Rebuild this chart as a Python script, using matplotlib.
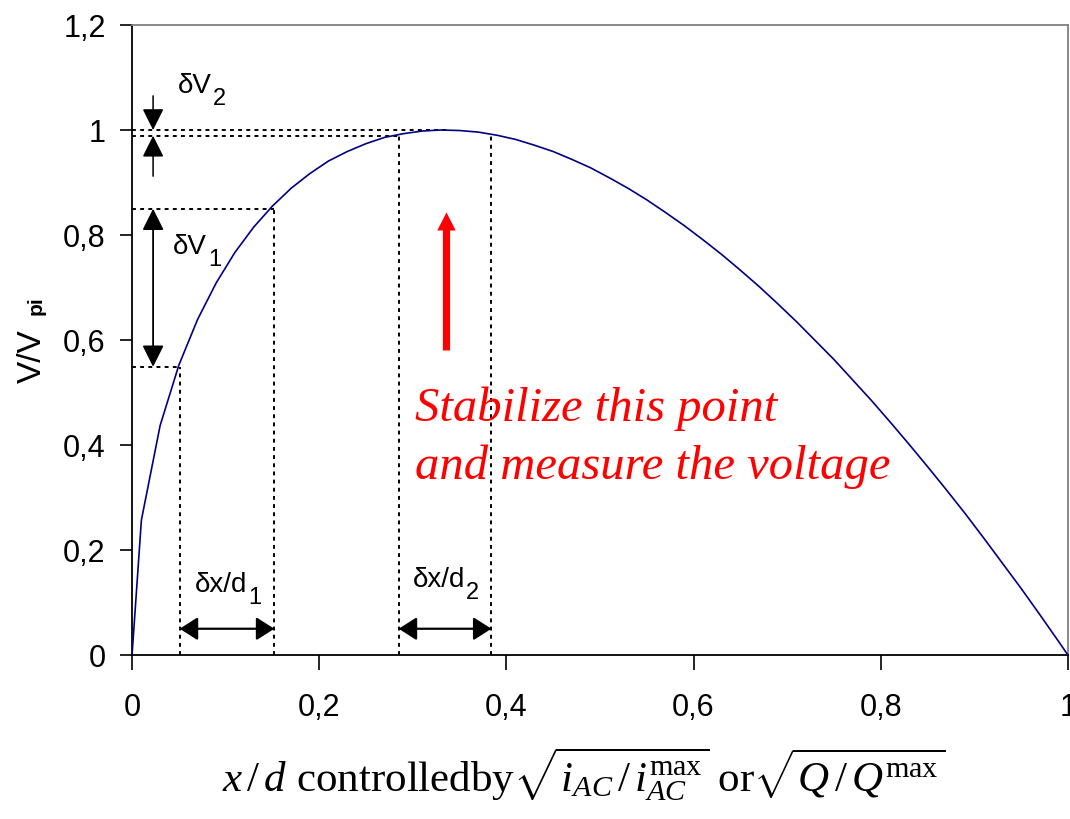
import matplotlib
matplotlib.use("Agg")
import matplotlib.pyplot as plt

plt.rcParams['mathtext.fontset'] = 'custom'
plt.rcParams['mathtext.rm'] = 'Liberation Serif'
plt.rcParams['mathtext.it'] = 'Liberation Serif:italic'
plt.rcParams['mathtext.bf'] = 'Liberation Serif:bold'
plt.rcParams['font.family'] = ['Liberation Sans', 'DejaVu Sans']

# curve values
x_pos = [0, 0.01, 0.03, 0.05, 0.07, 0.09, 0.11, 0.13, 0.15, 0.17, 0.19, 0.21, 0.23,
         0.25, 0.27, 0.29, 0.31, 0.33, 0.35, 0.37, 0.39, 0.41, 0.43, 0.45, 0.47,
         0.49, 0.51, 0.53, 0.55, 0.57, 0.59, 0.61, 0.63, 0.65, 0.67, 0.69, 0.71,
         0.73, 0.75, 0.77, 0.79, 0.81, 0.83, 0.85, 0.87, 0.89, 0.91, 0.93, 0.95,
         0.97, 0.99, 1.0]
v_ratio = [0, 0.257, 0.437, 0.552, 0.639, 0.709, 0.767, 0.815, 0.855, 0.889, 0.917,
           0.941, 0.959, 0.974, 0.986, 0.993, 0.998, 1.0, 0.999, 0.996, 0.990, 0.982,
           0.971, 0.959, 0.944, 0.928, 0.909, 0.889, 0.867, 0.843, 0.818, 0.791,
           0.763, 0.733, 0.702, 0.669, 0.635, 0.599, 0.563, 0.524, 0.485, 0.444,
           0.402, 0.359, 0.315, 0.270, 0.223, 0.175, 0.127, 0.077, 0.026, 0]

# marked operating points (x, V/Vpi)
guide_x = [0.051, 0.152, 0.285, 0.384]
guide_v = [0.549, 0.850, 0.989, 0.989]
dv2_top = 1.0

xticks = [0, 0.2, 0.4, 0.6, 0.8, 1]
yticks = [0, 0.2, 0.4, 0.6, 0.8, 1, 1.2]


def comma(v):
    return ('%g' % v).replace('.', ',')


fig = plt.figure(figsize=(10.7, 8.2), dpi=100)
ax = fig.add_axes([0.1234, 0.2, 0.8746, 0.7683])

ax.plot(x_pos, v_ratio, color='#000080', lw=1.2, zorder=3)

dots = dict(color='black', lw=1.4, ls=(0, (2, 2.2)), zorder=2)
# horizontal guides
ax.plot([0, guide_x[0]], [guide_v[0]] * 2, **dots)
ax.plot([0, guide_x[1]], [guide_v[1]] * 2, **dots)
ax.plot([0, guide_x[2]], [guide_v[2]] * 2, **dots)
ax.plot([0, 0.335], [dv2_top] * 2, **dots)
# vertical guides
for gx, gv in zip(guide_x, guide_v):
    ax.plot([gx, gx], [0, gv], **dots)

arr = dict(arrowstyle='-|>,head_length=0.6,head_width=0.3', color='black',
           lw=1.1, mutation_scale=22, shrinkA=0, shrinkB=0)
darr_v = dict(arrowstyle='<|-|>,head_length=0.6,head_width=0.3', color='black',
              lw=1.3, mutation_scale=22, shrinkA=0, shrinkB=0)
darr_h = dict(arrowstyle='<|-|>,head_length=0.5,head_width=0.32', color='black',
              lw=1.6, mutation_scale=22, shrinkA=0, shrinkB=0)
ax_x = 0.0225
ax.annotate('', xy=(ax_x, dv2_top), xytext=(ax_x, 1.065), arrowprops=arr)
ax.annotate('', xy=(ax_x, guide_v[2]), xytext=(ax_x, 0.912), arrowprops=arr)
ax.annotate('', xy=(ax_x, guide_v[0]), xytext=(ax_x, guide_v[1]), arrowprops=darr_v)
ax.annotate('', xy=(guide_x[0], 0.05), xytext=(guide_x[1], 0.05), arrowprops=darr_h)
ax.annotate('', xy=(guide_x[2], 0.05), xytext=(guide_x[3], 0.05), arrowprops=darr_h)

ax.annotate('', xy=(0.336, 0.843), xytext=(0.336, 0.58),
            arrowprops=dict(arrowstyle='simple,head_length=0.65,head_width=0.66,'
                                       'tail_width=0.26',
                            color='red', lw=0, mutation_scale=20,
                            shrinkA=0, shrinkB=0))
ax.text(0.302, 0.47, 'Stabilize this point', color='red', fontsize=35,
        style='italic', family='Liberation Serif', va='center')
ax.text(0.302, 0.36, 'and measure the voltage', color='red', fontsize=35,
        style='italic', family='Liberation Serif', va='center')

ax.set_xlim(0, 1)
ax.set_ylim(0, 1.2)
ax.set_xticks(xticks)
ax.set_xticklabels([comma(v) for v in xticks], fontsize=22)
ax.set_yticks(yticks)
ax.set_yticklabels([comma(v) for v in yticks], fontsize=22)
ax.tick_params(axis='x', direction='out', length=11, width=1.2, pad=16)
ax.tick_params(axis='y', direction='out', length=9, width=1.2, pad=10)
for s in ['left', 'bottom']:
    ax.spines[s].set_color('black')
    ax.spines[s].set_linewidth(1.3)
for s in ['top', 'right']:
    ax.spines[s].set_color('#808080')
    ax.spines[s].set_linewidth(1.3)

ax.set_xlabel(r'$x\,/\,d$ controlledby$\sqrt{i_{AC}\,/\,i_{AC}^{\mathrm{max}}}$ or'
              r'$\sqrt{Q\,/\,Q^{\mathrm{max}}}$',
              family='Liberation Serif', fontsize=31)
ax.xaxis.set_label_coords(0.482, -0.142)

# y label: V/V with bold subscript pi
fig.text(0.030, 0.566, 'V/V', rotation=90, fontsize=24,
         ha='center', va='center')
fig.text(0.0335, 0.627, 'pi', rotation=90, fontsize=15, weight='bold',
         ha='center', va='center')

# labels with sans subscripts, subscript placed after measuring the base text
fig.canvas.draw()
renderer = fig.canvas.get_renderer()


def sub_label(x, y, base, sub, size=20, sub_size=17, center=False):
    t = ax.text(x, y, base, fontsize=size, va='baseline')
    bb = t.get_window_extent(renderer)
    s = fig.text(0, 0, sub, fontsize=sub_size, va='baseline')
    sw = s.get_window_extent(renderer).width
    if center:
        shift = (bb.width + sw) / 2
        t.set_transform(ax.transData + matplotlib.transforms.Affine2D().translate(-shift, 0))
        bb = t.get_window_extent(renderer)
    s.set_position(((bb.x1 + 1) / fig.bbox.width, (bb.y0 - 6) / fig.bbox.height))


sub_label(0.049, 1.072, 'δV', '2')
sub_label(0.044, 0.765, 'δV', '1')
sub_label(0.102, 0.122, 'δx/d', '1', center=True)
sub_label(0.335, 0.132, 'δx/d', '2', center=True)

fig.savefig('out.png', dpi=100)
